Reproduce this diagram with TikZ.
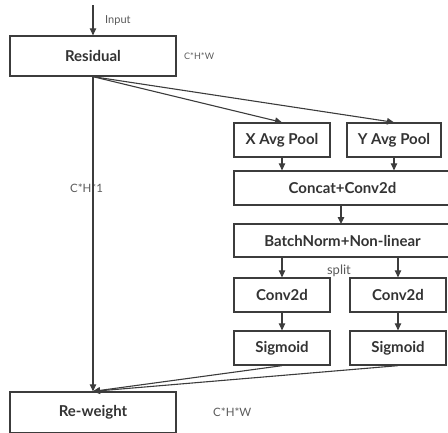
\documentclass[tikz,border=0pt]{standalone}
\usepackage{fontspec}
\setmainfont{Lato}
\usetikzlibrary{arrows.meta}
\definecolor{linec}{HTML}{3C3C3C}
\definecolor{textc}{HTML}{333333}
\definecolor{notec}{HTML}{5A5A5A}
\tikzset{
  block/.style={draw=linec, line width=1.3pt, rectangle, inner sep=0pt,
    text=textc, font=\bfseries\fontsize{15}{17}\selectfont},
  flow/.style={draw=linec, line width=1.1pt, -{Triangle[length=7pt,width=6.5pt]}},
  note/.style={text=notec, inner sep=0pt},
}
\begin{document}
\begin{tikzpicture}[x=1pt, y=-1pt]
  \useasboundingbox (0,0) rectangle (448,432);

  % main path blocks
  \node[block, minimum width=166pt, minimum height=40pt] (res) at (93,56) {Residual};
  \node[block, minimum width=166pt, minimum height=41pt] (rew) at (93,412.5) {Re-weight};

  % coordinate attention branch
  \node[block, minimum width=96pt, minimum height=34pt] (xp) at (282,140) {X Avg Pool};
  \node[block, minimum width=94pt, minimum height=34pt] (yp) at (394,140) {Y Avg Pool};
  \node[block, minimum width=217pt, minimum height=34pt] (cat) at (342.5,188) {Concat+Conv2d};
  \node[block, minimum width=217pt, minimum height=33pt] (bn) at (342.5,240.5) {BatchNorm+Non-linear};
  \node[block, minimum width=96pt, minimum height=34pt] (c1) at (282,295) {Conv2d};
  \node[block, minimum width=96pt, minimum height=34pt] (c2) at (398,295) {Conv2d};
  \node[block, minimum width=96pt, minimum height=34pt] (s1) at (282,348) {Sigmoid};
  \node[block, minimum width=96pt, minimum height=34pt] (s2) at (398,348) {Sigmoid};

  % annotations
  \coordinate (in) at (93,5);
  \node[note, anchor=west, font=\fontsize{11}{12}\selectfont] (lin) at (105,20) {Input};
  \node[note, anchor=west, font=\fontsize{9}{10}\selectfont] (l1) at (184,56) {C*H*W};
  \node[note, font=\fontsize{11.5}{12}\selectfont] (l2) at (86.5,188) {C*H*1};
  \node[note, font=\fontsize{13}{14}\selectfont] (lsp) at (339,271) {split};
  \node[note, anchor=west, font=\fontsize{11.5}{12}\selectfont] (l3) at (213,412) {C*H*W};

  % connectors
  \draw[flow] (in) -- (res.north);
  \draw[flow] (res.south) -- (rew.north);
  \draw[flow] (res.south) -- (xp.north);
  \draw[flow] (res.south) -- (yp.north);
  \draw[flow] (xp.south) -- (xp.south |- cat.north);
  \draw[flow] (yp.south) -- (yp.south |- cat.north);
  \draw[flow] (341,205) -- (341,224);
  \draw[flow] (c1.north |- bn.south) -- (c1.north);
  \draw[flow] (c2.north |- bn.south) -- (c2.north);
  \draw[flow] (c1.south) -- (s1.north);
  \draw[flow] (c2.south) -- (s2.north);
  \draw[flow] (s1.south) -- (rew.north);
  \draw[flow] (s2.south) -- (rew.north);
\end{tikzpicture}
\end{document}
